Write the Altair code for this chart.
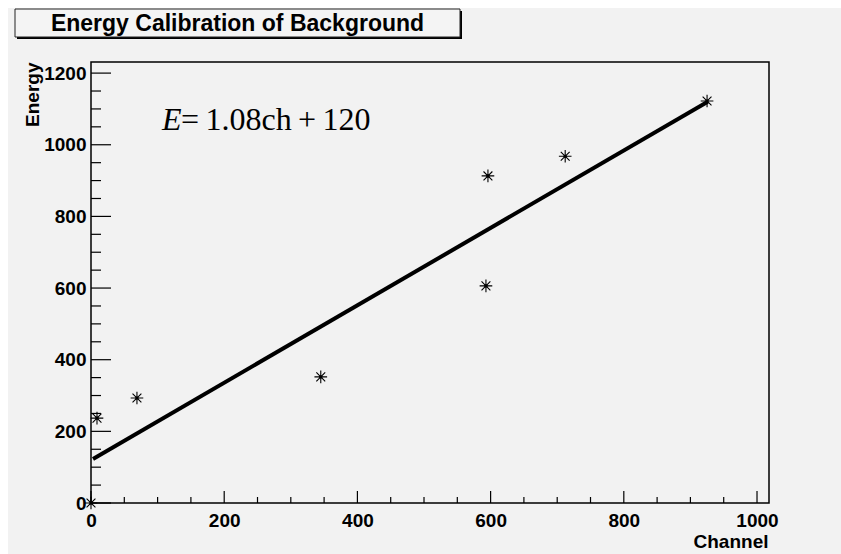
import altair as alt
import pandas as pd

# ---- data ----
channel = [0, 9, 69, 345, 593, 596, 712, 925]
energy = [0, 237, 293, 352, 606, 913, 968, 1122]
fit_channel = [3, 926]
fit_energy = [123, 1120]

x_major = [0, 200, 400, 600, 800, 1000]
x_minor = [50, 100, 150, 250, 300, 350, 450, 500, 550, 650, 700, 750, 850, 900, 950]
y_major = [0, 200, 400, 600, 800, 1000, 1200]
y_minor = [50, 100, 150, 250, 300, 350, 450, 500, 550, 650, 700, 750,
           850, 900, 950, 1050, 1100, 1150]

title_text = "Energy Calibration of Background"
x_title = "Channel"
y_title = "Energy"
eq_var = "E"
eq_rest = "=\u20091.08ch\u2009+\u2009120"

W, H = 678, 441
SANS = "Liberation Sans"
SERIF = "Liberation Serif"

x_scale = alt.Scale(domain=[0, 1018], nice=False, zero=False)
y_scale = alt.Scale(domain=[0, 1231], nice=False, zero=False)

x_axis = alt.Axis(values=x_major, format="d", labelFont=SANS, labelFontSize=19,
                  labelFontWeight="bold", labelColor="black", labelPadding=8,
                  labelFlush=False, labelOverlap=False, ticks=False, tickSize=0,
                  domain=False, grid=False, title=x_title, titleFont=SANS,
                  titleFontSize=19, titleFontWeight="bold", titleColor="black",
                  titleAlign="right", titleBaseline="alphabetic", titleX=677, titleY=44)
y_axis = alt.Axis(values=y_major, format="d", labelFont=SANS, labelFontSize=19,
                  labelFontWeight="bold", labelColor="black", labelPadding=5,
                  labelFlush=False, labelOverlap=False, ticks=False, tickSize=0,
                  domain=False, grid=False, title=y_title, titleFont=SANS,
                  titleFontSize=19, titleFontWeight="bold", titleColor="black",
                  titleAngle=270, titleAlign="right", titleBaseline="alphabetic",
                  titleX=-53, titleY=0)

X = alt.X("ch:Q", scale=x_scale, axis=x_axis)
Y = alt.Y("energy:Q", scale=y_scale, axis=y_axis)

one = pd.DataFrame({"a": [0]})
pts = pd.DataFrame({"ch": channel, "energy": energy})
fit = pd.DataFrame({"ch": fit_channel, "energy": fit_energy})
xmaj = pd.DataFrame({"ch": x_major})
xmin = pd.DataFrame({"ch": x_minor})
ymaj = pd.DataFrame({"energy": y_major})
ymin = pd.DataFrame({"energy": y_minor})

# white margins of the canvas (top and left)
strip_top = alt.Chart(one).mark_rect(color="white").encode(
    x=alt.value(-91), x2=alt.value(W + 72), y=alt.value(-62), y2=alt.value(-54))
strip_left = alt.Chart(one).mark_rect(color="white").encode(
    x=alt.value(-91), x2=alt.value(-83), y=alt.value(-62), y2=alt.value(H + 51))

# title box with shadow
shadow = alt.Chart(one).mark_rect(color="black").encode(
    x=alt.value(-74), x2=alt.value(371), y=alt.value(-51), y2=alt.value(-23))
box = alt.Chart(one).mark_rect(fill="#f4f4f4", stroke="#222222", strokeWidth=1).encode(
    x=alt.value(-76), x2=alt.value(369), y=alt.value(-53), y2=alt.value(-25))
title = alt.Chart(one).mark_text(font=SANS, fontSize=23, fontWeight="bold",
                                 align="center", baseline="alphabetic", color="black").encode(
    x=alt.value(146.5), y=alt.value(-31), text=alt.value(title_text))

# inner ticks
yt_major = alt.Chart(ymaj).mark_rule(color="black", strokeWidth=1.2).encode(
    y=Y, x=alt.value(0), x2=alt.value(20))
yt_minor = alt.Chart(ymin).mark_rule(color="black", strokeWidth=1.2).encode(
    y=Y, x=alt.value(0), x2=alt.value(10))
xt_major = alt.Chart(xmaj).mark_rule(color="black", strokeWidth=1.2).encode(
    x=X, y=alt.value(H), y2=alt.value(H - 12))
xt_minor = alt.Chart(xmin).mark_rule(color="black", strokeWidth=1.2).encode(
    x=X, y=alt.value(H), y2=alt.value(H - 6))

line = alt.Chart(fit).mark_line(color="black", strokeWidth=4).encode(x=X, y=Y)

star_path = "M-1,0L1,0M0,-1L0,1M-0.7,-0.7L0.7,0.7M-0.7,0.7L0.7,-0.7"
stars = alt.Chart(pts).mark_point(shape=star_path, size=160, filled=False,
                                  stroke="black", strokeWidth=1.1, opacity=1).encode(x=X, y=Y)
dots = alt.Chart(pts).mark_circle(size=10, color="black", opacity=1).encode(x=X, y=Y)

eq1 = alt.Chart(one).mark_text(font=SERIF, fontSize=32, fontStyle="italic",
                               align="left", baseline="alphabetic", color="black").encode(
    x=alt.value(71), y=alt.value(68), text=alt.value(eq_var))
eq2 = alt.Chart(one).mark_text(font=SERIF, fontSize=32,
                               align="left", baseline="alphabetic", color="black").encode(
    x=alt.value(90), y=alt.value(68), text=alt.value(eq_rest))

chart = alt.layer(
    strip_top, strip_left, shadow, box, title,
    yt_major, yt_minor, xt_major, xt_minor,
    line, stars, dots, eq1, eq2,
).properties(
    width=W, height=H,
    autosize=alt.AutoSizeParams(type="none"),
    padding={"left": 91, "top": 62, "right": 72, "bottom": 51},
    background="#f2f2f2",
).configure_view(stroke="black", strokeWidth=1.5)

chart.save("out.html", embed_options={"renderer": "svg", "actions": False})
